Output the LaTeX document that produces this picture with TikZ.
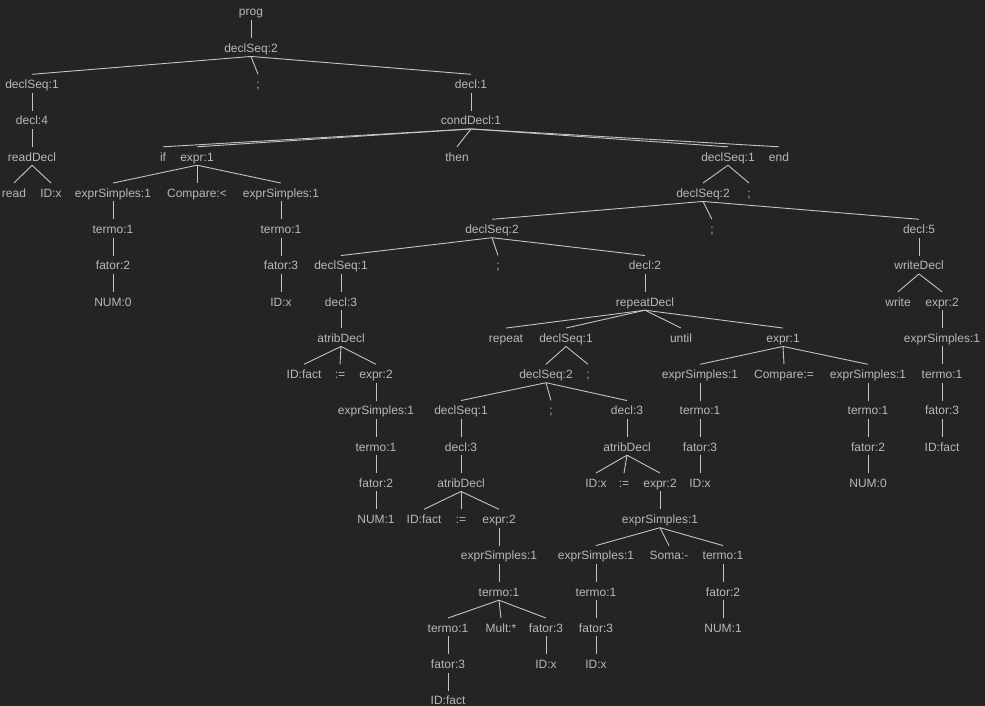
\documentclass[tikz,border=0pt]{standalone}
\usepackage{fontspec}
\setmainfont{Liberation Sans}
\definecolor{bgcol}{HTML}{242424}
\definecolor{txtcol}{HTML}{B8B8B8}
\definecolor{edgecol}{HTML}{C4C4C4}
\tikzset{
  t/.style={anchor=base, inner sep=0pt, text height=14pt, text depth=4pt,
            text=txtcol, font=\fontsize{12}{14}\selectfont},
  edge/.style={draw=edgecol, line width=0.9pt}
}
% baseline of tree level #1
\newcommand{\lvl}[1]{16+36.25*#1}
\begin{document}
\begin{tikzpicture}[x=1pt,y=-1pt]
\fill[bgcol] (0,0) rectangle (985,706);
\useasboundingbox (0,0) rectangle (985,706);
% level 0
\node[t] (prog) at (251,{\lvl{0}}) {prog};
% level 1
\node[t] (ds2a) at (251,{\lvl{1}}) {declSeq:2};
% level 2
\node[t] (ds1a) at (32,{\lvl{2}}) {declSeq:1};
\node[t] (semiA) at (258,{\lvl{2}}) {;};
\node[t] (d1) at (471,{\lvl{2}}) {decl:1};
% level 3
\node[t] (d4) at (32,{\lvl{3}}) {decl:4};
\node[t] (cond) at (471,{\lvl{3}}) {condDecl:1};
% level 4
\node[t] (readD) at (32,{\lvl{4}}) {readDecl};
\node[t] (kif) at (163,{\lvl{4}}) {if};
\node[t] (ex1a) at (197,{\lvl{4}}) {expr:1};
\node[t] (kthen) at (457,{\lvl{4}}) {then};
\node[t] (ds1b) at (728,{\lvl{4}}) {declSeq:1};
\node[t] (kend) at (779,{\lvl{4}}) {end};
% level 5
\node[t] (kread) at (14,{\lvl{5}}) {read};
\node[t] (idxA) at (51,{\lvl{5}}) {ID:x};
\node[t] (esA) at (113,{\lvl{5}}) {exprSimples:1};
\node[t] (cmpA) at (197,{\lvl{5}}) {Compare:<};
\node[t] (esB) at (281,{\lvl{5}}) {exprSimples:1};
\node[t] (ds2b) at (703,{\lvl{5}}) {declSeq:2};
\node[t] (semiB) at (749,{\lvl{5}}) {;};
% level 6
\node[t] (tA) at (113,{\lvl{6}}) {termo:1};
\node[t] (tB) at (281,{\lvl{6}}) {termo:1};
\node[t] (ds2c) at (492,{\lvl{6}}) {declSeq:2};
\node[t] (semiC) at (712,{\lvl{6}}) {;};
\node[t] (d5) at (919,{\lvl{6}}) {decl:5};
% level 7
\node[t] (fA) at (113,{\lvl{7}}) {fator:2};
\node[t] (fB) at (281,{\lvl{7}}) {fator:3};
\node[t] (ds1c) at (341,{\lvl{7}}) {declSeq:1};
\node[t] (semiD) at (498,{\lvl{7}}) {;};
\node[t] (d2) at (645,{\lvl{7}}) {decl:2};
\node[t] (wD) at (919,{\lvl{7}}) {writeDecl};
% level 8
\node[t] (num0A) at (113,{\lvl{8}}) {NUM:0};
\node[t] (idxB) at (281,{\lvl{8}}) {ID:x};
\node[t] (d3a) at (341,{\lvl{8}}) {decl:3};
\node[t] (rep) at (645,{\lvl{8}}) {repeatDecl};
\node[t] (kwrite) at (898,{\lvl{8}}) {write};
\node[t] (ex2a) at (942,{\lvl{8}}) {expr:2};
% level 9
\node[t] (atrA) at (341,{\lvl{9}}) {atribDecl};
\node[t] (krepeat) at (506,{\lvl{9}}) {repeat};
\node[t] (ds1d) at (566,{\lvl{9}}) {declSeq:1};
\node[t] (kuntil) at (681,{\lvl{9}}) {until};
\node[t] (ex1b) at (783,{\lvl{9}}) {expr:1};
\node[t] (esC) at (942,{\lvl{9}}) {exprSimples:1};
% level 10
\node[t] (idfA) at (304,{\lvl{10}}) {ID:fact};
\node[t] (asgA) at (340,{\lvl{10}}) {:=};
\node[t] (ex2b) at (376,{\lvl{10}}) {expr:2};
\node[t] (ds2d) at (546,{\lvl{10}}) {declSeq:2};
\node[t] (semiE) at (588,{\lvl{10}}) {;};
\node[t] (esD) at (700,{\lvl{10}}) {exprSimples:1};
\node[t] (cmpB) at (784,{\lvl{10}}) {Compare:=};
\node[t] (esE) at (868,{\lvl{10}}) {exprSimples:1};
\node[t] (tC) at (942,{\lvl{10}}) {termo:1};
% level 11
\node[t] (esF) at (376,{\lvl{11}}) {exprSimples:1};
\node[t] (ds1e) at (461,{\lvl{11}}) {declSeq:1};
\node[t] (semiF) at (551,{\lvl{11}}) {;};
\node[t] (d3b) at (627,{\lvl{11}}) {decl:3};
\node[t] (tD) at (700,{\lvl{11}}) {termo:1};
\node[t] (tE) at (868,{\lvl{11}}) {termo:1};
\node[t] (fC) at (942,{\lvl{11}}) {fator:3};
% level 12
\node[t] (tF) at (376,{\lvl{12}}) {termo:1};
\node[t] (d3c) at (461,{\lvl{12}}) {decl:3};
\node[t] (atrB) at (627,{\lvl{12}}) {atribDecl};
\node[t] (fD) at (700,{\lvl{12}}) {fator:3};
\node[t] (fE) at (868,{\lvl{12}}) {fator:2};
\node[t] (idfB) at (942,{\lvl{12}}) {ID:fact};
% level 13
\node[t] (fF) at (376,{\lvl{13}}) {fator:2};
\node[t] (atrC) at (461,{\lvl{13}}) {atribDecl};
\node[t] (idxC) at (596,{\lvl{13}}) {ID:x};
\node[t] (asgB) at (624,{\lvl{13}}) {:=};
\node[t] (ex2c) at (660,{\lvl{13}}) {expr:2};
\node[t] (idxD) at (700,{\lvl{13}}) {ID:x};
\node[t] (num0B) at (868,{\lvl{13}}) {NUM:0};
% level 14
\node[t] (num1A) at (376,{\lvl{14}}) {NUM:1};
\node[t] (idfC) at (424,{\lvl{14}}) {ID:fact};
\node[t] (asgC) at (461,{\lvl{14}}) {:=};
\node[t] (ex2d) at (499,{\lvl{14}}) {expr:2};
\node[t] (esG) at (660,{\lvl{14}}) {exprSimples:1};
% level 15
\node[t] (esH) at (499,{\lvl{15}}) {exprSimples:1};
\node[t] (esI) at (596,{\lvl{15}}) {exprSimples:1};
\node[t] (soma) at (669,{\lvl{15}}) {Soma:-};
\node[t] (tG) at (723,{\lvl{15}}) {termo:1};
% level 16
\node[t] (tH) at (499,{\lvl{16}}) {termo:1};
\node[t] (tI) at (596,{\lvl{16}}) {termo:1};
\node[t] (fG) at (723,{\lvl{16}}) {fator:2};
% level 17
\node[t] (tJ) at (448,{\lvl{17}}) {termo:1};
\node[t] (mult) at (501,{\lvl{17}}) {Mult:*};
\node[t] (fH) at (546,{\lvl{17}}) {fator:3};
\node[t] (fI) at (596,{\lvl{17}}) {fator:3};
\node[t] (num1B) at (723,{\lvl{17}}) {NUM:1};
% level 18
\node[t] (fJ) at (448,{\lvl{18}}) {fator:3};
\node[t] (idxE) at (546,{\lvl{18}}) {ID:x};
\node[t] (idxF) at (596,{\lvl{18}}) {ID:x};
% level 19
\node[t] (idfD) at (448,{\lvl{19}}) {ID:fact};

% parent-to-child connectors
\foreach \p/\c in {prog/ds2a, ds2a/ds1a, ds2a/semiA, ds2a/d1,
  ds1a/d4, d4/readD, readD/kread, readD/idxA,
  d1/cond, cond/kif, cond/ex1a, cond/kthen, cond/ds1b, cond/kend,
  ex1a/esA, ex1a/cmpA, ex1a/esB,
  esA/tA, tA/fA, fA/num0A, esB/tB, tB/fB, fB/idxB,
  ds1b/ds2b, ds1b/semiB, ds2b/ds2c, ds2b/semiC, ds2b/d5,
  d5/wD, wD/kwrite, wD/ex2a, ex2a/esC, esC/tC, tC/fC, fC/idfB,
  ds2c/ds1c, ds2c/semiD, ds2c/d2,
  ds1c/d3a, d3a/atrA, atrA/idfA, atrA/asgA, atrA/ex2b,
  ex2b/esF, esF/tF, tF/fF, fF/num1A,
  d2/rep, rep/krepeat, rep/ds1d, rep/kuntil, rep/ex1b,
  ds1d/ds2d, ds1d/semiE, ds2d/ds1e, ds2d/semiF, ds2d/d3b,
  ds1e/d3c, d3c/atrC, atrC/idfC, atrC/asgC, atrC/ex2d,
  ex2d/esH, esH/tH, tH/tJ, tH/mult, tH/fH, tJ/fJ, fJ/idfD, fH/idxE,
  d3b/atrB, atrB/idxC, atrB/asgB, atrB/ex2c, ex2c/esG,
  esG/esI, esG/soma, esG/tG, esI/tI, tI/fI, fI/idxF, tG/fG, fG/num1B,
  ex1b/esD, ex1b/cmpB, ex1b/esE, esD/tD, tD/fD, fD/idxD,
  esE/tE, tE/fE, fE/num0B}
  \draw[edge] (\p.south) -- (\c.north);
\end{tikzpicture}
\end{document}
